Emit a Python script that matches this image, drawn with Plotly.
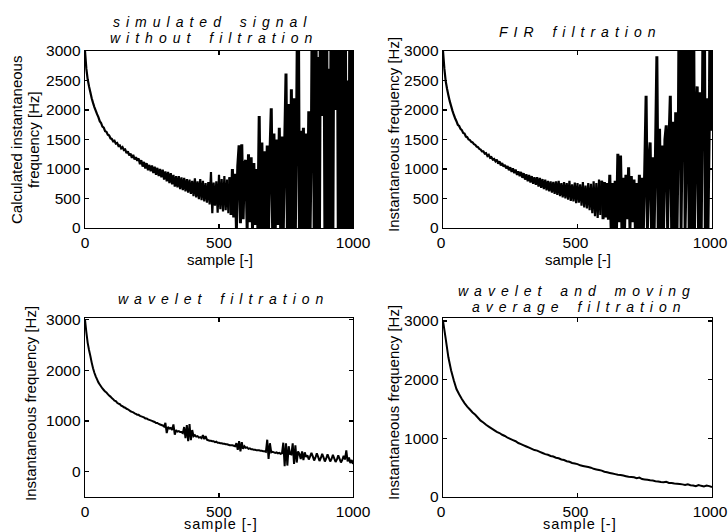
import plotly.graph_objects as go

W, H = 728, 532

# ---------------- data ----------------
samples_5 = list(range(0, 1001, 5))     # sample index, every 5th sample
samples_10 = list(range(0, 1001, 10))   # sample index, every 10th sample

# values above 3000 lie outside the visible range (clipped in the reference too)
signal_raw = [
    3000, 2700, 2520, 2400, 2300, 2200, 2120, 2050, 1990, 1930,
    1880, 1810, 1780, 1720, 1700, 1640, 1630, 1580, 1570, 1520,
    1510, 1470, 1480, 1430, 1440, 1390, 1400, 1350, 1370, 1320,
    1330, 1270, 1300, 1230, 1260, 1190, 1240, 1160, 1200, 1140,
    1180, 1080, 1150, 1040, 1120, 1010, 1100, 980, 1070, 960,
    1060, 930, 1040, 900, 1020, 880, 1000, 860, 990, 820,
    960, 790, 950, 760, 930, 740, 900, 700, 880, 690,
    880, 660, 860, 640, 850, 620, 830, 600, 820, 580,
    800, 540, 840, 520, 790, 490, 830, 470, 800, 450,
    760, 430, 780, 400, 950, 250, 770, 380, 790, 260,
    900, 320, 830, 280, 880, 300, 820, 250, 860, 220,
    1000, 180, 920, 0, 1050, 1400, 80, 1420, 150, 1100,
    1150, 0, 1250, 100, 1200, 0, 1100, 50, 1000, 0,
    1900, 0, 1450, 0, 1300, 0, 1400, 0, 1250, 2030,
    0, 1600, 0, 1500, 50, 1700, 0, 1550, 0, 1400,
    2620, 0, 2100, 0, 2350, 0, 2200, 0, 2000, 5000,
    0, 1650, 0, 1700, 0, 1600, 0, 1980, 0, 1650,
    5500, 0, 6000, 0, 2900, 0, 5800, 1900, 6000, 0,
    5800, 0, 2700, 0, 6000, 0, 5600, 2000, 6000, 0,
    5500, 0, 6000, 0, 5200, 0, 2500, 0, 6000, 0,
    5500,
]

signal_fir = [
    3000, 2700, 2490, 2360, 2250, 2150, 2070, 1990, 1920, 1860,
    1810, 1750, 1730, 1680, 1660, 1610, 1600, 1550, 1540, 1500,
    1490, 1460, 1450, 1420, 1410, 1380, 1370, 1340, 1330, 1300,
    1300, 1260, 1270, 1220, 1240, 1190, 1200, 1160, 1170, 1130,
    1160, 1090, 1130, 1060, 1100, 1040, 1070, 1010, 1050, 980,
    1030, 950, 1010, 930, 990, 900, 960, 880, 950, 850,
    930, 820, 910, 790, 900, 770, 880, 750, 860, 730,
    860, 700, 850, 680, 830, 660, 820, 640, 800, 620,
    790, 600, 780, 580, 790, 560, 800, 540, 760, 520,
    780, 500, 760, 480, 800, 460, 740, 450, 770, 420,
    760, 430, 740, 380, 780, 350, 720, 330, 760, 300,
    750, 250, 790, 200, 760, 170, 820, 220, 800, 150,
    780, 180, 760, 140, 900, 0, 760, 0, 800, 0,
    1260, 100, 1230, 0, 850, 0, 900, 150, 1030, 0,
    880, 100, 820, 0, 760, 0, 900, 0, 850, 0,
    1000, 2240, 0, 1100, 1450, 0, 1200, 0, 1300, 2910,
    0, 1680, 0, 1400, 0, 1500, 1740, 0, 1450, 2240,
    0, 1800, 0, 1960, 0, 1700, 5600, 0, 2000, 6000,
    0, 1200, 5800, 0, 5500, 0, 6000, 0, 1700, 2400,
    0, 2300, 0, 2500, 5800, 0, 2200, 0, 1800, 5500,
    1650,
]

signal_wavelet = [
    3000, 2750, 2540, 2400, 2280, 2150, 2040, 1950, 1880, 1820,
    1760, 1720, 1680, 1640, 1610, 1580, 1560, 1530, 1500, 1480,
    1450, 1430, 1400, 1390, 1360, 1340, 1330, 1300, 1290, 1270,
    1260, 1240, 1230, 1210, 1190, 1180, 1170, 1150, 1140, 1120,
    1120, 1100, 1090, 1080, 1070, 1050, 1050, 1030, 1020, 1010,
    1000, 990, 980, 960, 960, 940, 930, 920, 910, 890,
    960, 760, 880, 850, 860, 820, 930, 730, 820, 790,
    800, 780, 780, 760, 880, 660, 920, 600, 940, 620,
    820, 700, 720, 690, 700, 670, 680, 660, 720, 640,
    700, 630, 620, 610, 610, 600, 600, 580, 590, 570,
    570, 560, 560, 550, 550, 540, 540, 530, 520, 520,
    520, 510, 500, 560, 430, 600, 400, 580, 450, 500,
    470, 480, 450, 460, 440, 440, 430, 430, 420, 420,
    420, 410, 410, 400, 400, 390, 630, 250, 560, 380,
    390, 380, 370, 380, 360, 370, 350, 360, 570, 110,
    560, 120, 500, 350, 340, 560, 150, 520, 180, 400,
    350, 250, 400, 230, 380, 290, 320, 240, 300, 370,
    300, 220, 280, 360, 290, 210, 270, 350, 280, 200,
    260, 340, 270, 200, 250, 330, 260, 190, 240, 320,
    250, 180, 230, 310, 240, 420, 200, 280, 170, 230,
    150,
]

signal_wavelet_ma = [
    3000, 2700, 2380, 2160, 1990, 1840, 1750, 1670, 1600, 1540,
    1490, 1440, 1400, 1350, 1300, 1270, 1230, 1200, 1170, 1140,
    1110, 1090, 1060, 1040, 1010, 990, 970, 950, 920, 900,
    880, 860, 840, 820, 800, 790, 770, 750, 730, 720,
    700, 690, 670, 660, 640, 630, 610, 600, 580, 570,
    560, 540, 530, 520, 510, 500, 480, 470, 460, 450,
    430, 420, 410, 400, 390, 380, 375, 365, 355, 345,
    340, 335, 320, 330, 305, 300, 295, 285, 280, 270,
    265, 255, 250, 260, 240, 240, 230, 225, 220, 215,
    205, 215, 200, 195, 185, 205, 190, 180, 195, 185,
    170,
]

x_ticks = [0, 500, 1000]
y_ticks_top = [0, 500, 1000, 1500, 2000, 2500, 3000]
y_ticks_bottom = [0, 1000, 2000, 3000]

title_tl = ["simulated signal", "without filtration"]
title_tr = ["FIR filtration"]
title_bl = ["wavelet filtration"]
title_br = ["wavelet and moving", "average filtration"]
ylabel_tl = ["Calculated instantaneous", "frequency [Hz]"]
ylabel = "Instantaneous frequency [Hz]"
xlabel = "sample [-]"

# ---------------- figure ----------------
FONT = "Liberation Sans, Arial, Helvetica, sans-serif"


def px(x):
    return x / W


def py(y):
    return 1 - y / H


fig = go.Figure()


def add_line(xs, ys, xa, ya, lw, split=None, lw_noisy=None):
    """Draw one series; the strongly oscillating tail is stroked a bit wider."""
    parts = [(xs, ys, lw)] if split is None else [
        (xs[:split + 1], ys[:split + 1], lw), (xs[split:], ys[split:], lw_noisy)]
    for sx, sy, w in parts:
        fig.add_trace(go.Scatter(x=sx, y=sy, xaxis=xa, yaxis=ya, mode="lines",
                                 line=dict(color="black", width=w, simplify=False),
                                 showlegend=False, hoverinfo="skip"))


add_line(samples_5, signal_raw, "x", "y", 2.2, split=108, lw_noisy=3.0)
add_line(samples_5, signal_fir, "x2", "y2", 2.2, split=118, lw_noisy=3.0)
add_line(samples_5, signal_wavelet, "x3", "y3", 2.0)
add_line(samples_10, signal_wavelet_ma, "x4", "y4", 2.0)

common = dict(showline=True, linecolor="black", linewidth=1.3, mirror="ticks",
              ticks="inside", ticklen=4, tickcolor="black", tickwidth=1.3,
              showgrid=False, zeroline=False, automargin=False,
              ticklabeloverflow="allow",
              tickfont=dict(family=FONT, size=15.5, color="black"))

left_dom = [px(85), px(353)]
right_dom = [px(443), px(712)]
top_dom = [py(228), py(51)]
bot_dom = [py(497), py(318)]

fig.update_layout(
    template="none",
    width=W, height=H, autosize=False, margin=dict(l=0, r=0, t=0, b=0, pad=0),
    paper_bgcolor="white", plot_bgcolor="white",
    xaxis=dict(domain=left_dom, anchor="y", range=[0, 1000], tickvals=x_ticks, **common),
    xaxis2=dict(domain=right_dom, anchor="y2", range=[0, 1000], tickvals=x_ticks,
                ticklabelshift=-2, **common),
    xaxis3=dict(domain=left_dom, anchor="y3", range=[0, 1000], tickvals=x_ticks, **common),
    xaxis4=dict(domain=right_dom, anchor="y4", range=[0, 1000], tickvals=x_ticks,
                ticklabelshift=-2, **common),
    yaxis=dict(domain=top_dom, anchor="x", range=[0, 3000], tickvals=y_ticks_top, **common),
    yaxis2=dict(domain=top_dom, anchor="x2", range=[0, 3000], tickvals=y_ticks_top, **common),
    yaxis3=dict(domain=bot_dom, anchor="x3", range=[-500, 3030], tickvals=y_ticks_bottom, **common),
    yaxis4=dict(domain=bot_dom, anchor="x4", range=[0, 3050], tickvals=y_ticks_bottom, **common),
)


def spaced(text, ls, ws=0):
    return f'<span style="letter-spacing:{ls}px;word-spacing:{ws}px">{text}</span>'


def add_text(text, x, y, size=15, italic=False, angle=0):
    fig.add_annotation(text=text, xref="paper", yref="paper", x=px(x), y=py(y),
                       xanchor="center", yanchor="middle", showarrow=False,
                       textangle=angle,
                       font=dict(family=FONT, size=size, color="black",
                                 style="italic" if italic else "normal"))


# subplot titles
add_text(spaced(title_tl[0], 6, 3), 212, 22, 14, True)
add_text(spaced(title_tl[1], 6, 3), 214, 38, 14, True)
add_text(spaced(title_tr[0], 6, 3), 580, 32, 14, True)
add_text(spaced(title_bl[0], 6, 3), 223, 299, 14, True)
add_text(spaced(title_br[0], 6, 3), 577, 291, 14, True)
add_text(spaced(title_br[1], 6, 3), 579, 307, 14, True)

# y-axis labels
add_text(ylabel_tl[0], 17, 140, 15, angle=-90)
add_text(ylabel_tl[1], 34, 140, 15, angle=-90)
add_text(ylabel, 393, 135, 15, angle=-90)
add_text(ylabel, 30, 404, 15, angle=-90)
add_text(ylabel, 393, 403, 15, angle=-90)

# x-axis labels
add_text(xlabel, 220, 259, 15)
add_text(xlabel, 578, 259, 15)
add_text(spaced(xlabel, 1.0), 221, 523.5, 14.5)
add_text(spaced(xlabel, 1.0), 580, 523.5, 14.5)

fig.write_html("out.html", config={"displayModeBar": False, "staticPlot": True},
               post_script="document.body.style.margin='0';document.body.style.overflow='hidden';")
